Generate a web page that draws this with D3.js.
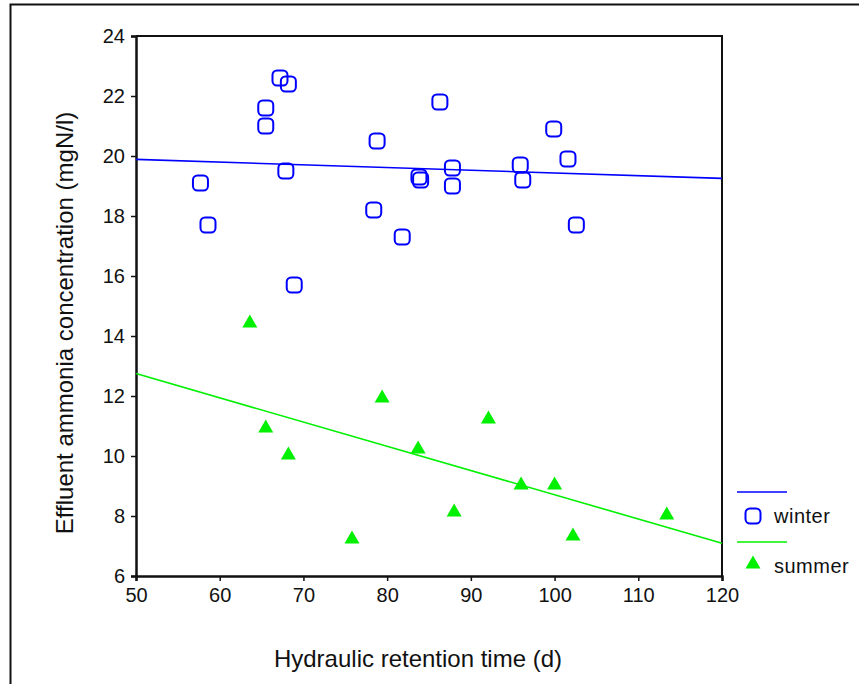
<!DOCTYPE html>
<html>
<head>
<meta charset="utf-8">
<script src="https://cdn.jsdelivr.net/npm/d3@7"></script>
<style>
  body { margin: 0; background: #fff; }
  text { font-family: "Liberation Sans", Arial, sans-serif; fill: #111; }
</style>
</head>
<body>
<svg id="chart"></svg>
<script>
// winter samples: retention time (d), effluent ammonia (mgN/l)
const winterX = [67.2, 68.2, 65.5, 65.5, 78.8, 57.7, 67.9, 83.8, 84.0, 87.8, 87.8,
                 86.3, 58.6, 78.4, 81.8, 68.9, 99.9, 101.6, 95.9, 96.2, 102.6];
const winterY = [22.6, 22.4, 21.6, 21.0, 20.5, 19.1, 19.5, 19.3, 19.2, 19.6, 19.0,
                 21.8, 17.7, 18.2, 17.3, 15.7, 20.9, 19.9, 19.7, 19.2, 17.7];

// summer samples
const summerX = [63.6, 65.5, 68.2, 75.8, 79.4, 83.7, 88.0, 92.1, 96.0, 100.0, 102.2, 113.4];
const summerY = [14.5, 11.0, 10.1, 7.3, 12.0, 10.3, 8.2, 11.3, 9.1, 9.1, 7.4, 8.1];

const xTicks = [50, 60, 70, 80, 90, 100, 110, 120];
const yTicks = [6, 8, 10, 12, 14, 16, 18, 20, 22, 24];

const width = 859, height = 684;
const margin = { top: 36, left: 136 };
const innerW = 586, innerH = 540;

const svg = d3.select('#chart')
    .attr('width', width)
    .attr('height', height);

// outer frame (only top and left visible in the original)
svg.append('path')
    .attr('d', `M10.5,${height + 5}V4.5H${width + 5}`)
    .attr('fill', 'none')
    .attr('stroke', '#111')
    .attr('stroke-width', 2);

const chart = svg.append('g')
    .attr('transform', `translate(${margin.left},${margin.top})`);

const x = d3.scaleLinear().domain([50, 120]).range([0, innerW]);
const y = d3.scaleLinear().domain([6, 24]).range([innerH, 0]);

// top and right border of the plot area
chart.append('path')
    .attr('d', `M0,0H${innerW}V${innerH}`)
    .attr('fill', 'none')
    .attr('stroke', '#111')
    .attr('stroke-width', 2);

const xAxisG = chart.append('g')
    .attr('transform', `translate(0,${innerH})`)
    .call(d3.axisBottom(x).tickValues(xTicks).tickSize(5).tickPadding(7).tickFormat(d3.format('d')));

const yAxisG = chart.append('g')
    .call(d3.axisLeft(y).tickValues(yTicks).tickSize(5).tickPadding(6).tickFormat(d3.format('d')));

[xAxisG, yAxisG].forEach(g => {
  g.select('.domain').attr('stroke', '#111').attr('stroke-width', 2.5);
  g.selectAll('.tick line').attr('stroke', '#111').attr('stroke-width', 1.5);
  g.selectAll('.tick text')
      .style('font-family', '"Liberation Sans", Arial, sans-serif')
      .style('font-size', '20px')
      .attr('fill', '#111');
});

// axis titles
svg.append('text')
    .attr('x', 418)
    .attr('y', 667)
    .attr('text-anchor', 'middle')
    .style('font-size', '24px')
    .text('Hydraulic retention time (d)');

svg.append('text')
    .attr('transform', `translate(73,323) rotate(-90)`)
    .attr('text-anchor', 'middle')
    .style('font-size', '24px')
    .text('Effluent ammonia concentration (mgN/l)');

// least squares fit for each season
function fit(xs, ys) {
  const mx = d3.mean(xs), my = d3.mean(ys);
  let sxy = 0, sxx = 0;
  xs.forEach((v, i) => { sxy += (v - mx) * (ys[i] - my); sxx += (v - mx) * (v - mx); });
  const b = sxy / sxx;
  return v => my + b * (v - mx);
}

const line = d3.line().x(d => x(d[0])).y(d => y(d[1]));
const winterFit = fit(winterX, winterY);
const summerFit = fit(summerX, summerY);

chart.append('path')
    .datum(x.domain().map(v => [v, winterFit(v)]))
    .attr('d', line)
    .attr('fill', 'none')
    .attr('stroke', '#0000ff')
    .attr('stroke-width', 1.6);

chart.append('path')
    .datum(x.domain().map(v => [v, summerFit(v)]))
    .attr('d', line)
    .attr('fill', 'none')
    .attr('stroke', '#00f000')
    .attr('stroke-width', 1.6);

const winter = winterX.map((v, i) => ({ x: v, y: winterY[i] }));
const summer = summerX.map((v, i) => ({ x: v, y: summerY[i] }));

const triPath = 'M0,-6.5L7.5,6.5L-7.5,6.5Z';

chart.selectAll('.winter')
    .data(winter)
  .join('rect')
    .attr('class', 'winter')
    .attr('x', d => x(d.x) - 7.5)
    .attr('y', d => y(d.y) - 7.5)
    .attr('width', 15)
    .attr('height', 15)
    .attr('rx', 4.5)
    .attr('fill', 'none')
    .attr('stroke', '#0000ff')
    .attr('stroke-width', 2);

chart.selectAll('.summer')
    .data(summer)
  .join('path')
    .attr('class', 'summer')
    .attr('d', triPath)
    .attr('transform', d => `translate(${x(d.x)},${y(d.y)})`)
    .attr('fill', '#00f000');

// legend
const legend = svg.append('g').attr('transform', 'translate(737,492)');
legend.append('line')
    .attr('x1', 0).attr('x2', 50).attr('y1', 0).attr('y2', 0)
    .attr('stroke', '#0000ff').attr('stroke-width', 1.6);
legend.append('rect')
    .attr('x', 8.5).attr('y', 16.5).attr('width', 15).attr('height', 15).attr('rx', 4.5)
    .attr('fill', 'none').attr('stroke', '#0000ff').attr('stroke-width', 2);
legend.append('text')
    .attr('x', 37).attr('y', 31)
    .style('font-size', '20px')
    .style('letter-spacing', '0.5px')
    .text('winter');
legend.append('line')
    .attr('x1', 0).attr('x2', 50).attr('y1', 50).attr('y2', 50)
    .attr('stroke', '#00f000').attr('stroke-width', 1.6);
legend.append('path')
    .attr('d', triPath)
    .attr('transform', 'translate(16,70)')
    .attr('fill', '#00f000');
legend.append('text')
    .attr('x', 37).attr('y', 81)
    .style('font-size', '20px')
    .style('letter-spacing', '0.5px')
    .text('summer');
</script>
</body>
</html>
